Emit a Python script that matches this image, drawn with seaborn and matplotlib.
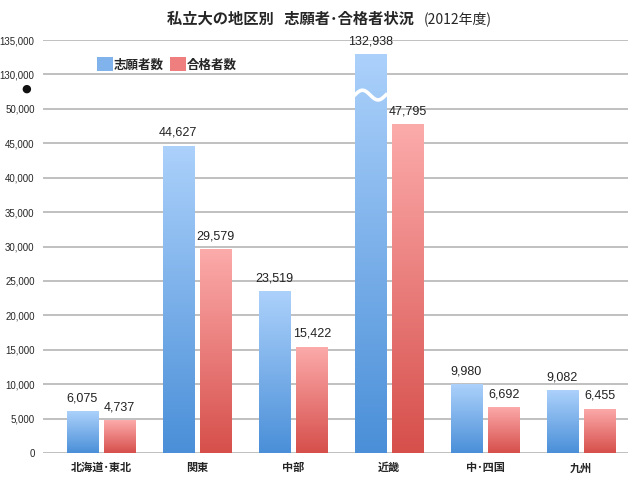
import numpy as np
import pandas as pd
import matplotlib
matplotlib.use("Agg")
import matplotlib.pyplot as plt
import seaborn as sns
from matplotlib.colors import LinearSegmentedColormap
from matplotlib.patches import Patch

# Data
regions = ["北海道･東北", "関東", "中部", "近畿", "中･四国", "九州"]
applicants = [6075, 44627, 23519, 132938, 9980, 9082]
passed = [4737, 29579, 15422, 47795, 6692, 6455]
series = ["志願者数", "合格者数"]
tick_values = [0, 5000, 10000, 15000, 20000, 25000, 30000, 35000,
               40000, 45000, 50000, 130000, 135000]

# Broken axis: everything >= 130,000 is pulled down by 75,000
BREAK_HIGH = 130000
BREAK_SHIFT = 75000


def squash(v):
    return v - BREAK_SHIFT if v >= BREAK_HIGH else v


df = pd.DataFrame({
    "region": regions * 2,
    "kind": [series[0]] * len(regions) + [series[1]] * len(regions),
    "value": applicants + passed,
})
df["plot_value"] = df["value"].map(squash)

sns.set_style("white")
plt.rcParams["font.family"] = ["Noto Sans CJK JP", "DejaVu Sans"]
num_font = ["Liberation Sans", "DejaVu Sans"]

fig = plt.figure(figsize=(6.4, 4.82), dpi=100)
ax = fig.add_axes([43 / 640, 29 / 482, 585 / 640, 413 / 482])

sns.barplot(data=df, x="region", y="plot_value", hue="kind", order=regions,
            hue_order=series, width=0.78, gap=0.17, legend=False, ax=ax,
            zorder=3)

grads = {
    series[0]: ("#4a8fd8", "#acd1fb"),
    series[1]: ("#d64f4b", "#fcabab"),
}

# gradient fill clipped to each bar
for name, cont in zip(series, ax.containers):
    cmap = LinearSegmentedColormap.from_list(name, list(grads[name]))
    for rect in cont:
        x0, w, h = rect.get_x(), rect.get_width(), rect.get_height()
        rect.set_facecolor("none")
        rect.set_edgecolor("none")
        img = ax.imshow(np.linspace(1, 0, 256).reshape(-1, 1), cmap=cmap,
                        extent=[x0, x0 + w, 0, h], aspect="auto",
                        zorder=3, interpolation="bicubic")
        img.set_clip_path(rect)

# value labels (raw numbers at squashed height)
for name, cont in zip(series, ax.containers):
    vals = df[df["kind"] == name]["value"].tolist()
    for rect, v in zip(cont, vals):
        ax.text(rect.get_x() + rect.get_width() / 2, rect.get_height() + 1000,
                f"{v:,}", ha="center", va="bottom", fontsize=9,
                family=num_font, color="#222222", zorder=5)

# wave mark on the broken bar
big = ax.containers[0][regions.index("近畿")]
bx, bw = big.get_x(), big.get_width()
t = np.linspace(-0.05, 1.05, 80)
ax.plot(bx + t * bw, 52000 + 700 * np.sin(2 * np.pi * t), color="white",
        lw=2.6, zorder=4, solid_capstyle="butt")

ax.set_xlim(-0.604, 5.49)
ax.set_ylim(0, 60000)
ax.set_yticks([squash(v) for v in tick_values])
ax.set_yticklabels([f"{v:,}" for v in tick_values], family=num_font,
                   fontsize=7)
ax.tick_params(axis="both", length=0)
ax.tick_params(axis="y", pad=6)
ax.tick_params(axis="x", pad=6)
for lab in ax.get_xticklabels():
    lab.set_fontweight("bold")
    lab.set_fontsize(8)
ax.yaxis.grid(True, color="#c0c0c0", lw=1.4, zorder=0)
ax.set_axisbelow(True)
for s in ax.spines.values():
    s.set_visible(False)
ax.set_xlabel("")
ax.set_ylabel("")

# break marker
ax.text(-0.02, 53000, "●", transform=ax.get_yaxis_transform(),
        ha="right", va="center", fontsize=8, color="#111111",
        family=["DejaVu Sans"])

handles = [Patch(facecolor="#80b3ec", edgecolor="none"),
           Patch(facecolor="#ef7f7f", edgecolor="none")]
ax.legend(handles, series, loc="upper left", bbox_to_anchor=(0.083, 0.97),
          ncol=2, frameon=False, handlelength=1.3,
          handleheight=1.3, handletextpad=0.05, columnspacing=0.5,
          borderaxespad=0, prop={"size": 9, "weight": "bold"})

fig.text(0.647, 0.962, "私立大の地区別   志願者･合格者状況", ha="right",
         va="center", fontsize=11, fontweight="bold")
fig.text(0.662, 0.962, "(2012年度)", ha="left", va="center", fontsize=10)

fig.savefig("out.png", dpi=100)
